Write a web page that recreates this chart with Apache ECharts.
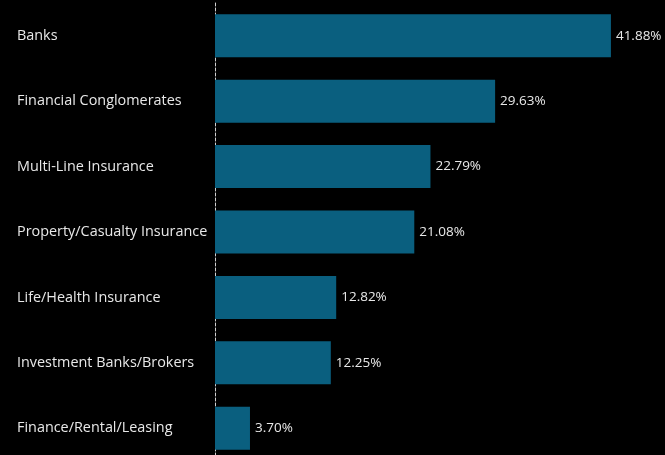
<!DOCTYPE html>
<html>
<head>
<meta charset="utf-8">
<script src="https://cdn.jsdelivr.net/npm/echarts@6/dist/echarts.min.js"></script>
<style>
html,body{margin:0;padding:0;background:#000;overflow:hidden;}
#chart{width:665px;height:461px;}
</style>
</head>
<body>
<div id="chart"></div>
<script>
var categories = ["Banks","Financial Conglomerates","Multi-Line Insurance","Property/Casualty Insurance","Life/Health Insurance","Investment Banks/Brokers","Finance/Rental/Leasing"];
var values = [41.88, 29.63, 22.79, 21.08, 12.82, 12.25, 3.70];

var chart = echarts.init(document.getElementById('chart'));
chart.setOption({
  backgroundColor: '#000000',
  animation: false,
  grid: {left: 215, right: 0, top: 3, bottom: 0, containLabel: false},
  xAxis: {
    type: 'value', min: 0, max: 47.6,
    show: false
  },
  yAxis: {
    type: 'category', data: categories, inverse: true,
    axisLine: {show: true, lineStyle: {color: '#d0d0d0', type: [3, 2], width: 1}},
    axisTick: {show: false},
    splitLine: {show: false},
    axisLabel: {
      color: '#e8e8e8', fontSize: 14.4, fontFamily: 'Open Sans',
      align: 'left', margin: 198
    }
  },
  series: [{
    type: 'bar',
    data: values,
    barWidth: 43,
    itemStyle: {color: '#0a5f7f'},
    label: {
      show: true, position: 'right', distance: 5,
      color: '#e8e8e8', fontSize: 13.5, fontFamily: 'Open Sans',
      formatter: function(p){ return p.value.toFixed(2) + '%'; }
    }
  }]
});
</script>
</body>
</html>
